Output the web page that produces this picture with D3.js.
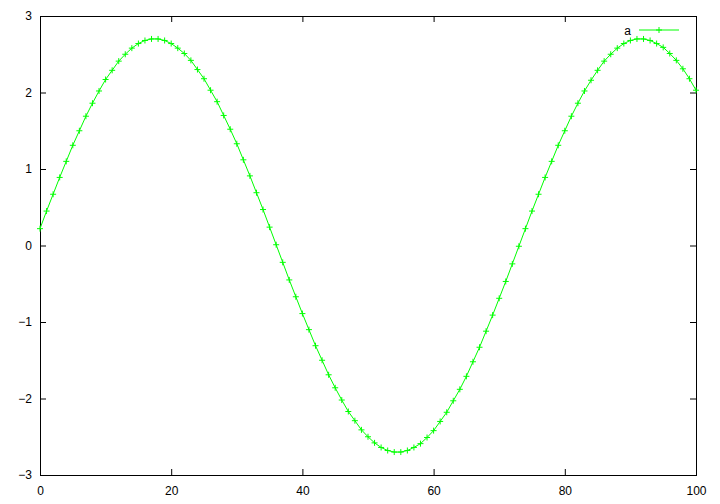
<!DOCTYPE html>
<html>
<head>
<meta charset="utf-8">
<script src="https://cdn.jsdelivr.net/npm/d3@7"></script>
<style>
html,body{margin:0;padding:0;background:#fff;}
svg{display:block;}
text{font-family:"Liberation Sans",Arial,sans-serif;font-size:12px;fill:#000;}
</style>
</head>
<body>
<svg id="chart" width="720" height="504"></svg>
<script>
// Data
const xValues = d3.range(0, 101);
const seriesA = [
  0.22, 0.45, 0.67, 0.89, 1.10, 1.31, 1.50, 1.69, 1.86, 2.02,
  2.17, 2.29, 2.41, 2.50, 2.58, 2.64, 2.68, 2.70, 2.70, 2.68,
  2.64, 2.58, 2.51, 2.42, 2.30, 2.18, 2.03, 1.88, 1.70, 1.52,
  1.33, 1.12, 0.91, 0.69, 0.47, 0.24, 0.01, -0.22, -0.45, -0.67,
  -0.89, -1.10, -1.31, -1.50, -1.69, -1.86, -2.02, -2.17, -2.29, -2.41,
  -2.50, -2.58, -2.64, -2.68, -2.70, -2.70, -2.68, -2.64, -2.59, -2.51,
  -2.42, -2.30, -2.18, -2.03, -1.88, -1.71, -1.52, -1.33, -1.12, -0.91,
  -0.69, -0.47, -0.24, -0.01, 0.22, 0.45, 0.67, 0.89, 1.10, 1.31,
  1.50, 1.69, 1.86, 2.02, 2.16, 2.29, 2.41, 2.50, 2.58, 2.64,
  2.68, 2.70, 2.70, 2.68, 2.64, 2.59, 2.51, 2.42, 2.31, 2.18,
  2.03
];
const seriesName = "a";
const xTicks = [0, 20, 40, 60, 80, 100];
const yTicks = [-3, -2, -1, 0, 1, 2, 3];

const svg = d3.select("#chart");
const L = 40, R = 696, T = 16, B = 475;
const x = d3.scaleLinear().domain([0, 100]).range([L, R]);
const y = d3.scaleLinear().domain([-3, 3]).range([B, T]);
const green = "#00ff00";

function styleAxis(g){
  g.select(".domain").remove();
  g.selectAll(".tick line").attr("stroke", "#000");
  g.selectAll(".tick text").attr("font-size", 12).attr("font-family", "Liberation Sans, Arial, sans-serif").attr("fill", "#000");
}

svg.append("g").attr("transform", `translate(0,${B})`)
  .call(d3.axisBottom(x).tickValues(xTicks).tickSize(-6).tickPadding(11).tickFormat(d3.format("d")))
  .call(styleAxis);
svg.append("g").attr("transform", `translate(0,${T})`)
  .call(d3.axisTop(x).tickValues(xTicks).tickSize(-6).tickFormat(""))
  .call(styleAxis);
svg.append("g").attr("transform", `translate(${L},0)`)
  .call(d3.axisLeft(y).tickValues(yTicks).tickSize(-6).tickPadding(8).tickFormat(d3.format("d")))
  .call(styleAxis);
svg.append("g").attr("transform", `translate(${R},0)`)
  .call(d3.axisRight(y).tickValues(yTicks).tickSize(-6).tickFormat(""))
  .call(styleAxis);

// Border
svg.append("rect").attr("x", L + 0.5).attr("y", T + 0.5)
  .attr("width", R - L).attr("height", B - T)
  .attr("fill", "none").attr("stroke", "#000").attr("stroke-width", 1);

const data = xValues.map((d, i) => ({x: d, y: seriesA[i]}));
const line = d3.line().x(d => x(d.x)).y(d => y(d.y));
svg.append("path").datum(data).attr("d", line)
  .attr("fill", "none").attr("stroke", green).attr("stroke-width", 1);

const s = 3;
const plus = (cx, cy) => `M${cx - s},${cy}H${cx + s}M${cx},${cy - s}V${cy + s}`;
svg.append("path")
  .attr("d", data.map(d => plus(x(d.x), y(d.y))).join(""))
  .attr("fill", "none").attr("stroke", green).attr("stroke-width", 1);

// Legend
svg.append("text").attr("x", 631).attr("y", 35).attr("text-anchor", "end").text(seriesName);
svg.append("line").attr("x1", 639).attr("x2", 679).attr("y1", 30).attr("y2", 30)
  .attr("stroke", green).attr("stroke-width", 1);
svg.append("path").attr("d", plus(659, 30)).attr("fill", "none").attr("stroke", green);
</script>
</body>
</html>
